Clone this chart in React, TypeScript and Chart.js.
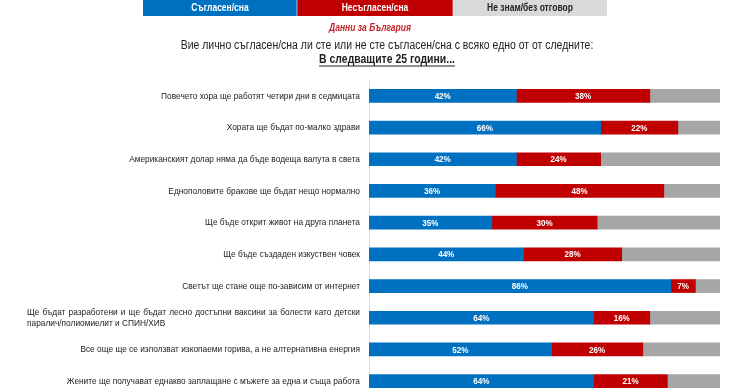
import React, { useEffect, useRef } from "react";
import { Chart, registerables } from "chart.js";

Chart.register(...registerables);

const categories: (string | string[])[] = [
  "Повечето хора ще работят четири дни в седмицата",
  "Хората ще бъдат по-малко здрави",
  "Американският долар няма да бъде водеща валута в света",
  "Еднополовите бракове ще бъдат нещо нормално",
  "Ще бъде открит живот на друга планета",
  "Ще бъде създаден изкуствен човек",
  "Светът ще стане още по-зависим от интернет",
  [
    "Ще бъдат разработени и ще бъдат лесно достъпни ваксини за болести като детски",
    "паралич/полиомиелит и СПИН/ХИВ",
  ],
  "Все още ще се използват изкопаеми горива, а не алтернативна енергия",
  "Жените ще получават еднакво заплащане с мъжете за една и съща работа",
];

const agree = [42, 66, 42, 36, 35, 44, 86, 64, 52, 64];
const disagree = [38, 22, 24, 48, 30, 28, 7, 16, 26, 21];
const dontKnow = [20, 12, 34, 16, 35, 28, 7, 20, 22, 15];

const legendLabels = ["Съгласен/сна", "Несъгласен/сна", "Не знам/без отговор"];
const subtitle = "Данни за България";
const question =
  "Вие лично съгласен/сна ли сте или не сте съгласен/сна с всяко едно от от следните:";
const period = "В следващите 25 години...";

const BLUE = "#0070C0";
const RED = "#C00000";
const GRAY = "#A6A6A6";
const LIGHT = "#D9D9D9";
const FONT = '"Liberation Sans", Arial, sans-serif';
const K = 0.85; // horizontal condensing to mimic a narrow font

function drawText(ctx: CanvasRenderingContext2D, text: string, x: number, y: number, align: CanvasTextAlign) {
  ctx.save();
  ctx.translate(x, y);
  ctx.scale(K, 1);
  ctx.textAlign = align;
  ctx.fillText(text, 0, 0);
  ctx.restore();
}

export default function App() {
  const ref = useRef<HTMLCanvasElement>(null);

  useEffect(() => {
    const canvas = ref.current!;
    const headerPlugin = {
      id: "header",
      afterDraw(chart: any) {
        const ctx: CanvasRenderingContext2D = chart.ctx;
        ctx.save();
        ctx.textBaseline = "middle";
        // legend boxes
        const boxes = [
          { x: 143, w: 154, bg: BLUE, fg: "#ffffff" },
          { x: 297, w: 156, bg: RED, fg: "#ffffff" },
          { x: 453, w: 154, bg: LIGHT, fg: "#222222" },
        ];
        boxes.forEach((b, i) => {
          ctx.fillStyle = b.bg;
          ctx.fillRect(b.x, 0, b.w, 16);
          ctx.fillStyle = b.fg;
          ctx.font = `bold 10px ${FONT}`;
          drawText(ctx, legendLabels[i], b.x + b.w / 2, 8.5, "center");
        });
        ctx.fillStyle = "rgba(255,255,255,0.6)";
        ctx.fillRect(296.5, 0, 1, 16);
        ctx.fillRect(452.5, 0, 1, 16);
        ctx.fillStyle = "#C0252B";
        ctx.font = `italic bold 10px ${FONT}`;
        drawText(ctx, subtitle, 370, 28, "center");
        ctx.fillStyle = "#222222";
        ctx.font = `12.3px ${FONT}`;
        drawText(ctx, question, 387, 46, "center");
        ctx.font = `bold 12.3px ${FONT}`;
        drawText(ctx, period, 387, 59.5, "center");
        const w = ctx.measureText(period).width * K;
        ctx.fillRect(387 - w / 2, 65.5, w, 1);

        // category labels
        const y = chart.scales.y;
        ctx.font = `9.8px ${FONT}`;
        ctx.fillStyle = "#222222";
        categories.forEach((lab, i) => {
          const py = y.getPixelForValue(i);
          if (Array.isArray(lab)) {
            const left = 27;
            const right = 360;
            const words = lab[0].split(" ");
            const total = words.reduce((s, wd) => s + ctx.measureText(wd).width * K, 0);
            const gap = Math.max(2, (right - left - total) / (words.length - 1));
            let x = left;
            words.forEach((wd) => {
              drawText(ctx, wd, x, py - 5.5, "left");
              x += ctx.measureText(wd).width * K + gap;
            });
            drawText(ctx, lab[1], left, py + 5.5, "left");
          } else {
            drawText(ctx, lab, 360, py, "right");
          }
        });

        // value labels
        ctx.font = `bold 9.5px ${FONT}`;
        ctx.fillStyle = "#ffffff";
        [0, 1].forEach((di) => {
          const meta = chart.getDatasetMeta(di);
          meta.data.forEach((el: any, i: number) => {
            const v = chart.data.datasets[di].data[i];
            const cx = (el.x + el.base) / 2;
            drawText(ctx, `${v}%`, cx, el.y + 0.5, "center");
          });
        });
        ctx.restore();
      },
    };

    const chart = new Chart(canvas, {
      type: "bar",
      data: {
        labels: categories as any,
        datasets: [
          { label: legendLabels[0], data: agree, backgroundColor: BLUE, barThickness: 13 },
          { label: legendLabels[1], data: disagree, backgroundColor: RED, barThickness: 13 },
          { label: legendLabels[2], data: dontKnow, backgroundColor: GRAY, barThickness: 13 },
        ],
      },
      options: {
        indexAxis: "y",
        animation: false,
        responsive: false,
        maintainAspectRatio: false,
        layout: { padding: { top: 80, right: 20, bottom: 3, left: 0 } },
        plugins: {
          legend: { display: false },
          title: { display: false },
          tooltip: { enabled: false },
        },
        scales: {
          x: { stacked: true, min: 0, max: 100, display: false },
          y: {
            stacked: true,
            grid: { display: false, drawTicks: false },
            ticks: { display: false },
            border: { color: LIGHT, width: 1 },
            afterFit: (s: any) => {
              s.width = 369;
            },
          },
        },
      },
      plugins: [headerPlugin],
    });
    return () => chart.destroy();
  }, []);

  return (
    <div
      style={{
        position: "fixed",
        left: 0,
        top: 0,
        width: 740,
        height: 388,
        overflow: "hidden",
        background: "#fff",
      }}
    >
      <canvas ref={ref} width={740} height={400} style={{ width: 740, height: 400, display: "block" }} />
    </div>
  );
}
